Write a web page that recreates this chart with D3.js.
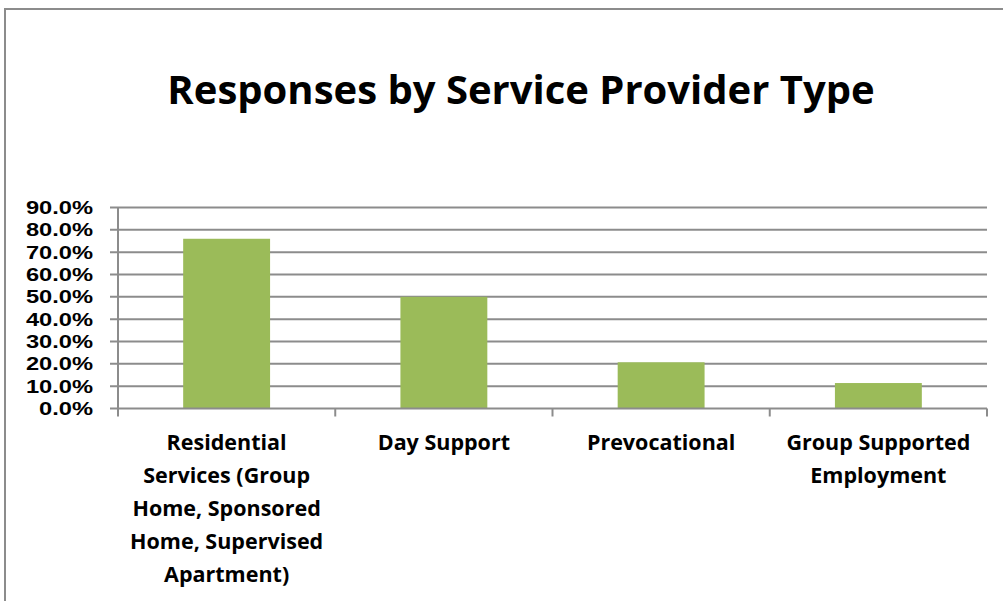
<!DOCTYPE html>
<html lang="en">
<head>
    <meta charset="UTF-8">
    <title>Responses by Service Provider Type</title>
    <style>
        body {
            background: white;
            margin: 0;
            padding: 0;
        }
        svg text {
            font-family: "Open Sans", "Noto Sans", sans-serif;
            font-weight: bold;
            fill: #000;
        }
        svg text.ylab {
            font-family: "Liberation Sans", Arial, sans-serif;
        }
        .grid line {
            stroke: #8c8c8c;
            stroke-width: 2;
        }
        .bar {
            fill: #9BBB59;
        }
    </style>
</head>
<body>
    <script src="https://cdn.jsdelivr.net/npm/d3@7"></script>
    <script>
        var categories = [
            ['Residential', 'Services (Group', 'Home, Sponsored', 'Home, Supervised', 'Apartment)'],
            ['Day Support'],
            ['Prevocational'],
            ['Group Supported', 'Employment']
        ];
        var values = [0.76, 0.50, 0.207, 0.114];
        var yTicks = [0, 0.1, 0.2, 0.3, 0.4, 0.5, 0.6, 0.7, 0.8, 0.9];

        var width = 1003, height = 601;
        var plot = {left: 118, right: 987, top: 207.5, bottom: 408.5};

        var svg = d3.select('body').append('svg')
            .attr('width', width)
            .attr('height', height);

        // outer frame (top and left edge visible)
        svg.append('path')
            .attr('d', 'M5,' + height + 'V9H' + width)
            .attr('fill', 'none')
            .attr('stroke', '#8c8c8c')
            .attr('stroke-width', 2);

        svg.append('text')
            .attr('x', 521)
            .attr('y', 104)
            .attr('text-anchor', 'middle')
            .style('font-size', '40px')
            .text('Responses by Service Provider Type');

        var x = d3.scaleBand()
            .domain(d3.range(categories.length))
            .range([plot.left, plot.right])
            .paddingInner(0.6)
            .paddingOuter(0.3);

        var y = d3.scaleLinear()
            .domain([0, 0.9])
            .range([plot.bottom, plot.top]);

        // gridlines + y labels
        var grid = svg.append('g').attr('class', 'grid');
        grid.selectAll('line')
            .data(yTicks.slice(1))
            .enter().append('line')
            .attr('x1', plot.left - 8)
            .attr('x2', plot.right)
            .attr('y1', function(d) { return y(d); })
            .attr('y2', function(d) { return y(d); });

        // labels are stretched a bit to get the wide bold look of the original
        svg.selectAll('text.ylab')
            .data(yTicks)
            .enter().append('text')
            .attr('class', 'ylab')
            .attr('transform', function(d) { return 'translate(93,' + y(d) + ') scale(1.28,1)'; })
            .attr('dy', '0.36em')
            .attr('text-anchor', 'end')
            .style('font-size', '18.5px')
            .text(function(d) { return d3.format('.1%')(d); });

        // bars
        svg.selectAll('rect.bar')
            .data(values)
            .enter().append('rect')
            .attr('class', 'bar')
            .attr('x', function(d, i) { return x(i); })
            .attr('width', x.bandwidth())
            .attr('y', function(d) { return y(d); })
            .attr('height', function(d) { return y(0) - y(d); });

        // axes
        var axisG = svg.append('g').attr('class', 'grid');
        axisG.append('line')
            .attr('x1', plot.left - 8).attr('x2', plot.right)
            .attr('y1', y(0)).attr('y2', y(0));
        axisG.append('line')
            .attr('x1', plot.left).attr('x2', plot.left)
            .attr('y1', plot.top).attr('y2', y(0) + 8);
        var step = (plot.right - plot.left) / categories.length;
        axisG.selectAll('line.tick')
            .data(d3.range(1, categories.length + 1))
            .enter().append('line')
            .attr('class', 'tick')
            .attr('x1', function(d) { return plot.left + d * step; })
            .attr('x2', function(d) { return plot.left + d * step; })
            .attr('y1', y(0))
            .attr('y2', y(0) + 8);

        // category labels
        var labels = svg.selectAll('text.xlab')
            .data(categories)
            .enter().append('text')
            .attr('class', 'xlab')
            .attr('text-anchor', 'middle')
            .style('font-size', '21.5px');
        labels.selectAll('tspan')
            .data(function(d, i) { return d.map(function(t) { return {t: t, i: i}; }); })
            .enter().append('tspan')
            .attr('x', function(d) { return x(d.i) + x.bandwidth() / 2; })
            .attr('y', function(d, j) { return 450 + j * 33; })
            .text(function(d) { return d.t; });
    </script>
</body>
</html>
